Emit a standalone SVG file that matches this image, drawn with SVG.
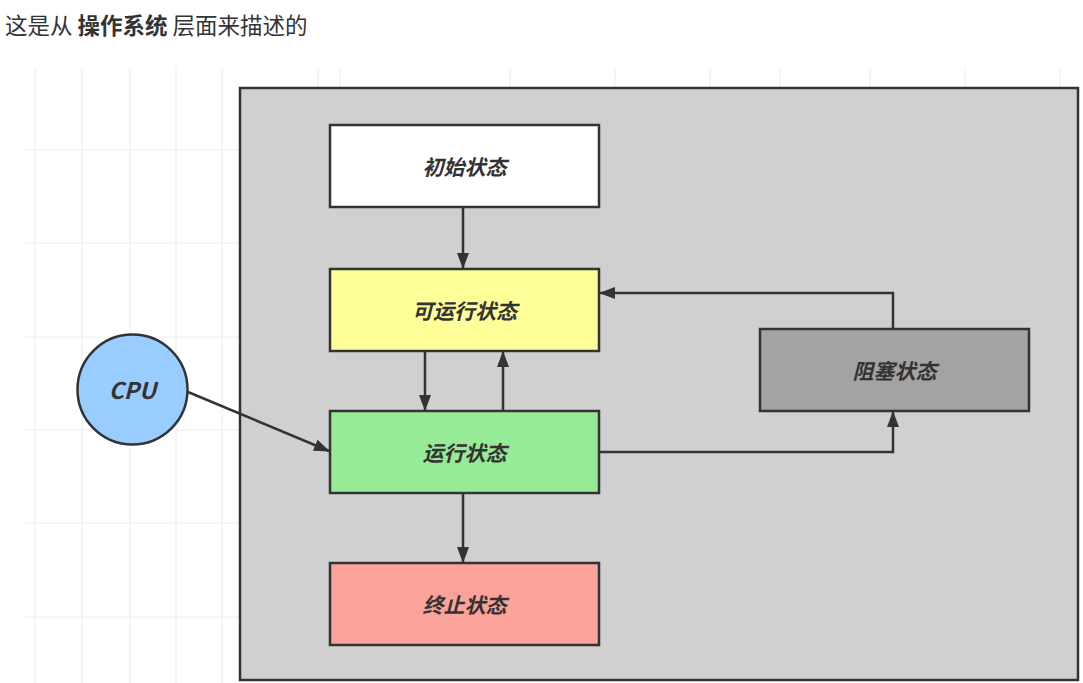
<svg xmlns="http://www.w3.org/2000/svg" width="1083" height="683" viewBox="0 0 1083 683">
<style>
.grid line{stroke:#ececec;stroke-width:1}
.node rect,.node circle{stroke:#333;stroke-width:2.5}
.lbl{font-family:"Noto Sans CJK SC","Noto Sans",sans-serif;font-size:21px;font-weight:bold;font-style:italic;fill:#333;text-anchor:middle;dominant-baseline:central}
.conn path{fill:none;stroke:#333;stroke-width:2.5}
</style>
<defs>
<marker id="arr" viewBox="0 0 16 12" refX="15" refY="6" markerWidth="16" markerHeight="12" markerUnits="userSpaceOnUse" orient="auto">
<path d="M0,0 L16,6 L0,12 Z" fill="#333"/>
</marker>
</defs>
<rect width="1083" height="683" fill="#ffffff"/>
<g class="grid">
<line x1="35" y1="68" x2="35" y2="683"/>
<line x1="82" y1="68" x2="82" y2="683"/>
<line x1="130" y1="68" x2="130" y2="683"/>
<line x1="176" y1="68" x2="176" y2="683"/>
<line x1="222" y1="68" x2="222" y2="683"/>
<line x1="318" y1="68" x2="318" y2="88"/>
<line x1="340" y1="68" x2="340" y2="88"/>
<line x1="510" y1="68" x2="510" y2="88"/>
<line x1="615" y1="68" x2="615" y2="88"/>
<line x1="710" y1="68" x2="710" y2="88"/>
<line x1="780" y1="68" x2="780" y2="88"/>
<line x1="870" y1="68" x2="870" y2="88"/>
<line x1="965" y1="68" x2="965" y2="88"/>
<line x1="1060" y1="68" x2="1060" y2="88"/>
<line x1="25" y1="150" x2="240" y2="150"/>
<line x1="25" y1="243" x2="240" y2="243"/>
<line x1="25" y1="337" x2="240" y2="337"/>
<line x1="25" y1="430" x2="240" y2="430"/>
<line x1="25" y1="523" x2="240" y2="523"/>
<line x1="25" y1="617" x2="240" y2="617"/>
</g>
<text x="5" y="34" font-family="'Noto Sans CJK SC',sans-serif" font-size="22.5" fill="#333">这是从 <tspan font-weight="bold">操作系统</tspan> 层面来描述的</text>
<g id="container" class="node"><rect x="240" y="88" width="838" height="592" fill="#d0d0d0"/></g>
<g class="conn">
<path d="M463,207 L463,268" marker-end="url(#arr)"/>
<path d="M425,351 L425,410" marker-end="url(#arr)"/>
<path d="M503,411 L503,352" marker-end="url(#arr)"/>
<path d="M463,493 L463,562" marker-end="url(#arr)"/>
<path d="M599,452 L893,452 L893,412" marker-end="url(#arr)"/>
<path d="M893,329 L893,293 L600,293" marker-end="url(#arr)"/>
<path d="M188,392 L329,451" marker-end="url(#arr)"/>
</g>
<g id="init" class="node"><rect x="330" y="125" width="269" height="82" fill="#ffffff"/><text class="lbl" x="464.5" y="166">初始状态</text></g>
<g id="runnable" class="node"><rect x="330" y="269" width="269" height="82" fill="#ffff9a"/><text class="lbl" x="464.5" y="310">可运行状态</text></g>
<g id="running" class="node"><rect x="330" y="411" width="269" height="82" fill="#97eb97"/><text class="lbl" x="464.5" y="452">运行状态</text></g>
<g id="terminated" class="node"><rect x="330" y="563" width="269" height="82" fill="#fba39a"/><text class="lbl" x="464.5" y="604">终止状态</text></g>
<g id="blocked" class="node"><rect x="760" y="329" width="269" height="82" fill="#a3a3a3"/><text class="lbl" x="894.5" y="370">阻塞状态</text></g>
<g id="cpu" class="node"><circle cx="132.5" cy="389.5" r="55" fill="#99ccff"/><text class="lbl" x="132.5" y="389" style="font-size:23px">CPU</text></g>
</svg>
